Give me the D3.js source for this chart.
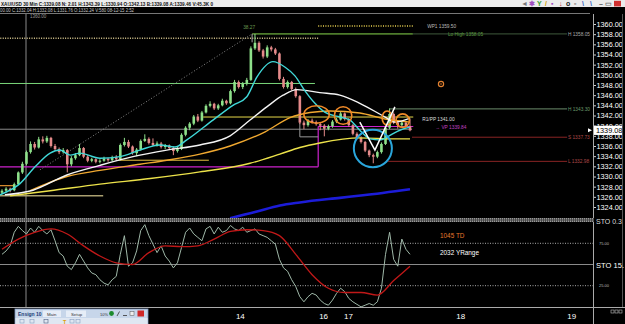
<!DOCTYPE html>
<html>
<head>
<meta charset="utf-8">
<script src="https://d3js.org/d3.v7.min.js"></script>
<style>
  body { margin: 0; background: #000; }
  svg { display: block; font-family: "Liberation Sans", Arial, sans-serif; }
</style>
</head>
<body>
<svg width="625" height="324"></svg>
<script>
// XAU/USD 30 min bars
var open = [1326.8,1327.2,1327.6,1327.3,1328.5,1330.8,1332.5,1334.8,1336.4,1335.7,
1337.3,1336.9,1337.6,1336.0,1335.4,1334.8,1335.2,1332.4,1333.6,1334.2,
1335.6,1333.9,1333.1,1333.4,1332.9,1333.1,1333.5,1333.2,1333.8,1333.4,
1336.2,1336.8,1335.9,1334.6,1335.3,1337.0,1337.4,1336.6,1336.2,1336.5,
1335.8,1336.1,1335.6,1335.0,1335.4,1338.2,1339.6,1340.4,1341.8,1341.0,
1342.6,1343.9,1344.3,1343.4,1344.0,1344.9,1344.4,1346.8,1348.6,1347.6,
1348.3,1349.0,1355.2,1356.3,1354.8,1353.6,1355.4,1355.0,1354.2,1349.2,
1347.6,1348.6,1347.2,1345.8,1340.6,1340.1,1341.0,1340.7,1340.3,1340.0,
1339.4,1339.9,1340.8,1341.2,1342.4,1341.3,1340.1,1338.4,1337.6,1336.8,
1335.1,1334.2,1333.9,1334.8,1336.4,1339.6,1342.3,1340.6,1340.1,1340.6,
1339.9];
var high = [1327.5,1327.9,1327.8,1328.8,1331.0,1332.9,1335.1,1336.9,1336.8,1337.8,
1337.9,1338.0,1337.8,1336.4,1335.7,1335.6,1335.4,1334.0,1334.6,1336.4,
1335.8,1334.2,1333.7,1333.6,1333.4,1333.9,1333.7,1334.1,1334.2,1336.5,
1337.6,1337.2,1336.1,1335.6,1337.3,1338.3,1337.7,1337.5,1336.9,1336.8,
1336.4,1336.3,1335.9,1335.8,1338.5,1339.9,1340.7,1342.1,1342.3,1342.9,
1344.2,1344.8,1344.5,1344.3,1345.3,1345.1,1347.1,1349.0,1348.9,1348.6,
1349.4,1355.6,1358.05,1356.6,1355.1,1355.8,1355.7,1355.3,1354.4,1349.6,
1348.9,1348.8,1347.5,1346.0,1341.0,1341.3,1341.4,1341.0,1340.6,1340.3,
1340.2,1341.1,1341.5,1342.8,1342.6,1341.5,1340.3,1338.7,1337.9,1337.0,
1335.3,1334.5,1335.1,1336.7,1339.9,1343.4,1342.6,1340.9,1340.9,1340.9,
1341.4];
var low = [1326.5,1326.9,1326.9,1327.1,1328.3,1330.5,1332.2,1334.5,1335.3,1335.5,
1336.5,1336.6,1335.7,1335.0,1334.4,1334.5,1330.8,1332.0,1333.3,1334.0,
1333.6,1332.8,1332.8,1332.6,1332.6,1332.9,1332.9,1333.0,1333.1,1333.2,
1335.9,1335.6,1334.3,1334.0,1335.1,1336.8,1336.3,1336.0,1335.9,1335.5,
1335.4,1335.2,1334.2,1334.7,1335.2,1337.9,1339.1,1340.1,1340.7,1340.8,
1342.4,1343.6,1343.1,1343.1,1343.8,1344.1,1344.2,1346.5,1347.3,1347.2,
1347.9,1348.8,1354.9,1354.5,1353.2,1353.3,1354.6,1353.9,1348.9,1347.3,
1347.3,1346.9,1345.5,1340.3,1339.3,1339.8,1340.4,1340.0,1339.1,1337.9,
1339.1,1339.6,1340.5,1341.0,1341.0,1339.8,1338.1,1337.3,1336.5,1334.8,
1333.8,1332.6,1333.6,1334.5,1336.2,1339.3,1340.3,1339.4,1339.8,1339.6,
1338.9];
var close = [1327.2,1327.6,1327.3,1328.5,1330.8,1332.5,1334.8,1336.4,1335.7,1337.3,
1336.9,1337.6,1336.0,1335.4,1334.8,1335.2,1332.4,1333.6,1334.2,1335.6,
1333.9,1333.1,1333.4,1332.9,1333.1,1333.5,1333.2,1333.8,1333.4,1336.2,
1336.8,1335.9,1334.6,1335.3,1337.0,1337.4,1336.6,1336.2,1336.5,1335.8,
1336.1,1335.6,1335.0,1335.4,1338.2,1339.6,1340.4,1341.8,1341.0,1342.6,
1343.9,1344.3,1343.4,1344.0,1344.9,1344.4,1346.8,1348.6,1347.6,1348.3,
1349.0,1355.2,1356.3,1354.8,1353.6,1355.4,1355.0,1354.2,1349.2,1347.6,
1348.6,1347.2,1345.8,1340.6,1340.1,1341.0,1340.7,1340.3,1340.0,1339.4,
1339.9,1340.8,1341.2,1342.4,1341.3,1340.1,1338.4,1337.6,1336.8,1335.1,
1334.2,1333.9,1334.8,1336.4,1339.6,1342.3,1340.6,1340.1,1340.6,1339.9,
1339.08];

// moving averages [bar, price]
var maCyan = [[-0.5,1326.4],[4.4,1328.6],[8.1,1331.9],[11.8,1334.6],[14.2,1335.2],[16.7,1334.2],
  [19.1,1334.6],[24,1333.6],[28.9,1333.9],[33.8,1335.2],[38.7,1336.2],[42.4,1335.8],[45.3,1337.2],
  [51.7,1341.1],[56.6,1344.0],[60,1345.7],[62.5,1349.6],[66.4,1352.6],[69.4,1351.5],[71.8,1349.8],
  [74.3,1346.8],[76.7,1344.4],[79.2,1342.6],[82.8,1341.7],[85.3,1341.1],[87.7,1339.1],[90.2,1337.4],
  [92.6,1337.2],[95.1,1338.1],[97.5,1339.1],[100,1339.7]];
var maWhite = [[0.7,1326.4],[7.6,1327.3],[15.9,1330.3],[24,1332.2],[32.1,1333.9],[40.4,1335.2],
  [48.5,1336.2],[55.9,1338.0],[60.8,1341.1],[64.9,1343.7],[68.9,1346.0],[72.3,1347.1],[77.9,1346.5],
  [82.8,1346.0],[87.7,1344.4],[93.9,1341.7],[96.3,1340.7],[100,1341.5]];
var maOrange = [[6.9,1327.2],[15.9,1330.0],[24,1331.2],[33.8,1332.4],[40.4,1333.2],[48.5,1334.4],
  [55.9,1336.0],[64.5,1338.8],[70.6,1341.6],[75.5,1342.6],[80.4,1342.9],[87.7,1342.5],[93.9,1341.3],[100,1340.7]];
var maYellow = [[2,1326.2],[11.8,1327.2],[24,1328.5],[36.3,1329.6],[48.5,1330.9],[60.8,1332.6],
  [68.1,1334.4],[73,1335.7],[77.9,1336.6],[87.7,1337.6],[96.3,1337.4],[100,1337.4]];
var maBlue = [[55.9,1321.8],[62,1323.0],[68.1,1324.3],[73,1324.9],[82.8,1325.8],[88.5,1326.3],[100,1327.5]];

// drawn levels: price, from bar, to bar
var lvlPrice = [1348.3, 1339.3, 1341.7, 1331.9, 1339.84, 1333.2, 1326.2, 1328.2, 1343.3, 1337.73, 1332.98, 1357.2, 1359.6, 1358.05, 1358.05];
var lvlFrom  = [-1, -1, 49.3, -1, 77.5, 28.4, -1, -1, 95, 100.5, 94.6, -1, 77.5, 61.3, 100.7];
var lvlTo    = [76.7, 100.5, 100.8, 77.5, 100.8, 50.7, 24.8, 2.7, 138.5, 138.5, 138.5, 77.5, 100.8, 100.7, 138.5];

// stochastic
var stoK = [62,66,72,88,95,90,86,93,88,95,
90,86,91,78,64,60,48,44,52,62,
54,46,40,38,32,28,26,32,36,62,
84,48,52,66,90,97,84,74,64,72,
60,54,46,52,70,88,93,86,82,78,
92,95,86,94,88,90,96,92,90,94,
88,90,92,86,84,82,78,74,56,46,
42,32,24,12,6,12,16,14,8,4,
2,8,16,22,18,10,6,3,0,2,
4,2,6,22,62,88,56,48,80,68,
62];
var stoD = [68,80,88,92,86,72,60,52,50,64,72,71,72,80,89,91,90,84,62,38,22,17,17,14,31,48]; // every 4 bars

var priceTicks = [1324,1326,1328,1330,1332,1334,1336,1338,1340,1342,1344,1346,1348,1350,1352,1354,1356,1358,1360];
var dayTicks = [58.3, 78.7, 84.8, 112.3, 139.5];
var dayLabels = ["14", "16", "17", "18", "19"];

var lastPrice = 1339.08;

// ---------------------------------------------------------------
var svg = d3.select("svg");
svg.append("rect").attr("width", 625).attr("height", 324).attr("fill", "#000");

var x = d3.scaleLinear().domain([0, 100]).range([2, 410]);
var y = d3.scaleLinear().domain([1324, 1360]).range([207, 24]);
var ys = d3.scaleLinear().domain([25, 75]).range([285.7, 243.3]);

var upCol = "#8ee08a", dnCol = "#e58a8a";

// header rows
svg.append("rect").attr("width", 625).attr("height", 7).attr("fill", "#ececec");
svg.append("text").attr("x", 1).attr("y", 5.6).attr("font-size", 5.6).attr("font-weight", "bold").attr("fill", "#111")
  .attr("textLength", 212).attr("lengthAdjust", "spacingAndGlyphs")
  .text("XAU/USD 30 Min C:1339.08 N: 2.01 H:1343.39 L:1330.94 O:1342.13 B:1339.08 A:1339.46 V:45.3K 0");
svg.append("text").attr("x", 0).attr("y", 12).attr("font-size", 5).attr("fill", "#c8c8c8")
  .attr("textLength", 134).attr("lengthAdjust", "spacingAndGlyphs")
  .text("00.00 C:1332.04 H:1332.08 L:1331.76 O:1332.24 V:580 08-12-15 2:52");

var icons = svg.append("g").attr("font-size", 7).attr("font-weight", "bold");
[["◄", 521, "#777"], ["✱", 529, "#a050c0"], ["Y", 537, "#30a030"], ["/", 545, "#d0a000"], ["▪", 551, "#a050c0"],
 ["↓", 559, "#c03030"], ["o", 566, "#222"], ["▫", 574, "#333"], ["\\", 582, "#3060c0"], ["\\", 590, "#3060c0"],
 ["–", 599, "#555"], ["▭", 605, "#777"]].forEach(function(d) {
  icons.append("text").attr("x", d[1]).attr("y", 6.3).attr("fill", d[2]).text(d[0]);
});
svg.append("rect").attr("x", 614).attr("y", 0.8).attr("width", 7).attr("height", 5.6).attr("fill", "#d03030");

svg.append("line").attr("x1", 0).attr("x2", 590).attr("y1", 13.5).attr("y2", 13.5).attr("stroke", "#777");
svg.append("text").attr("x", 30).attr("y", 18).attr("font-size", 4.5).attr("fill", "#999").text("1360.00");

// main price panel
svg.append("clipPath").attr("id", "mainClip").append("rect")
  .attr("x", 0).attr("y", 14).attr("width", 593).attr("height", 204);
var main = svg.append("g").attr("clip-path", "url(#mainClip)");

main.append("line").attr("x1", 26).attr("x2", 26).attr("y1", 14).attr("y2", 218).attr("stroke", "#8a8a8a");

var lvlColor = ["#7ad67a", "#8a8a8a", "#e6d84a", "#cc22cc", "#cc22cc", "#e8c040", "#aaa070", "#e09030",
                "#6b8c6b", "#8a2424", "#8a2424", "#d8c890", "#e8d050", "#4e7c2c", "#3f5a3c"];
var lvlWidth = [1, 1, 1, 1.2, 1.2, 1, 1.6, 1.2, 1, 1, 1, 1.3, 1.6, 1.6, 1];
var lvlDash  = [null, null, null, null, null, null, null, null, null, null, null, "1,1.4", "1,1.4", null, null];

main.selectAll("line.lvl").data(lvlPrice).enter().append("line")
  .attr("class", "lvl")
  .attr("x1", function(d, i) { return x(lvlFrom[i]); })
  .attr("x2", function(d, i) { return x(lvlTo[i]); })
  .attr("y1", function(d) { return y(d); })
  .attr("y2", function(d) { return y(d); })
  .attr("stroke", function(d, i) { return lvlColor[i]; })
  .attr("stroke-width", function(d, i) { return lvlWidth[i]; })
  .attr("stroke-dasharray", function(d, i) { return lvlDash[i]; });

// magenta step and grey bracket
main.append("line").attr("x1", x(77.5)).attr("x2", x(77.5)).attr("y1", y(1331.9)).attr("y2", y(1339.84))
  .attr("stroke", "#cc22cc").attr("stroke-width", 1.2);
main.append("path").attr("fill", "none").attr("stroke", "#999")
  .attr("d", d3.line()([[x(73), y(1340.5)], [x(73), y(1337.8)], [x(77.5), y(1337.8)]]));

// dotted trend line to the high
main.append("line").attr("x1", x(9.3)).attr("y1", y(1331.3)).attr("x2", x(61.3)).attr("y2", y(1358.05))
  .attr("stroke", "#8a8a8a").attr("stroke-dasharray", "1,2");
main.append("line").attr("x1", x(61.3)).attr("x2", x(61.3)).attr("y1", y(1358.05)).attr("y2", y(1356.4)).attr("stroke", "#aaa");

// candles
var bars = d3.range(close.length);
var cg = main.append("g");
cg.selectAll("line").data(bars).enter().append("line")
  .attr("x1", function(i) { return x(i); })
  .attr("x2", function(i) { return x(i); })
  .attr("y1", function(i) { return y(high[i]); })
  .attr("y2", function(i) { return y(low[i]); })
  .attr("stroke", function(i) { return close[i] >= open[i] ? upCol : dnCol; });
cg.selectAll("rect").data(bars).enter().append("rect")
  .attr("x", function(i) { return x(i) - 1.3; })
  .attr("width", 2.6)
  .attr("y", function(i) { return y(Math.max(open[i], close[i])); })
  .attr("height", function(i) { return Math.max(1, Math.abs(y(open[i]) - y(close[i]))); })
  .attr("fill", function(i) { return close[i] >= open[i] ? upCol : dnCol; });

// moving averages
var maLine = d3.line().x(function(d) { return x(d[0]); }).y(function(d) { return y(d[1]); }).curve(d3.curveMonotoneX);
[[maBlue, "#1c1cd8", 2.6], [maYellow, "#ece24a", 1.4], [maOrange, "#f0a830", 1.4],
 [maWhite, "#f4f4f4", 1.4], [maCyan, "#40d8d8", 1.4]].forEach(function(s) {
  main.append("path").datum(s[0]).attr("fill", "none").attr("stroke", s[1]).attr("stroke-width", s[2]).attr("d", maLine);
});

// hand drawn marks
var ov = main.append("g").attr("fill", "none");
var orangeRings = [[77.1, 1342.2, 3.1, 1.71], [83.6, 1342.0, 2.13, 1.73], [94.4, 1341.5, 1.23, 1.38], [98.2, 1341.0, 1.64, 1.32]];
orangeRings.forEach(function(e) {
  ov.append("ellipse").attr("cx", x(e[0])).attr("cy", y(e[1]))
    .attr("rx", x(e[2]) - x(0)).attr("ry", y(1324) - y(1324 + e[3]))
    .attr("stroke", "#f08a28").attr("stroke-width", 1.6);
});
ov.append("ellipse").attr("cx", x(90.9)).attr("cy", y(1335.5))
  .attr("rx", x(4.66) - x(0)).attr("ry", y(1324) - y(1324 + 3.68))
  .attr("stroke", "#2aa6dc").attr("stroke-width", 2);
ov.append("path").attr("stroke", "#fff").attr("stroke-width", 1.5)
  .attr("d", d3.line()([[x(87.7), y(1340.7)], [x(91.4), y(1335.2)], [x(96.3), y(1343.7)]]));
ov.append("circle").attr("cx", x(107.6)).attr("cy", y(1348.2)).attr("r", 2.6).attr("stroke", "#e08030").attr("stroke-width", 1.2);
ov.append("circle").attr("cx", x(107.6)).attr("cy", y(1348.2)).attr("r", 0.8).attr("fill", "#e08030");

// level labels
var tl = main.append("g").attr("font-size", 4.8);
[["WP1 1359.50", 104.2, 1359.5, "#bbbbbb"], ["Lo High 1358.05", 109.3, 1358.05, "#5a9a40"],
 ["H 1358.05", 138.7, 1358.05, "#aaaaaa"], ["38.27", 59.1, 1359.3, "#6a9a50"],
 ["R1/PP 1341.00", 103, 1341.2, "#dddddd"], ["\u2192  VP 1339.84", 106.2, 1339.7, "#c040c0"],
 ["H 1343.30", 138.7, 1343.3, "#6a9a6a"], ["S 1337.73", 138.7, 1337.73, "#b04848"],
 ["L 1332.98", 138.7, 1332.98, "#b04848"]].forEach(function(t) {
  tl.append("text").attr("x", x(t[1])).attr("y", y(t[2]) + 1.7).attr("fill", t[3]).text(t[0]);
});

// price axis
var ax = svg.append("g").attr("transform", "translate(593.5,0)")
  .call(d3.axisRight(y).tickValues(priceTicks).tickSize(2.5).tickFormat(d3.format(".2f")));
ax.select(".domain").remove();
ax.selectAll("line").attr("stroke", "#ccc");
ax.selectAll("text").attr("fill", "#fff").attr("font-size", 7.3).attr("x", 3)
  .attr("font-family", "'Liberation Sans', Arial, sans-serif");
svg.append("line").attr("x1", 593.5).attr("x2", 593.5).attr("y1", 14).attr("y2", 324).attr("stroke", "#aaa");
svg.append("line").attr("x1", 622.5).attr("x2", 622.5).attr("y1", 14).attr("y2", 307).attr("stroke", "#555");

svg.append("rect").attr("x", 594).attr("y", y(lastPrice) - 4.6).attr("width", 28).attr("height", 9.2).attr("fill", "#fff");
svg.append("text").attr("x", 596).attr("y", y(lastPrice) + 2.7).attr("font-size", 7.3).attr("fill", "#000")
  .text(d3.format(".2f")(lastPrice));
svg.append("path").attr("fill", "#fff")
  .attr("d", d3.line()([[588, y(lastPrice) - 2], [592, y(lastPrice)], [588, y(lastPrice) + 2]]));

// panel separator
svg.append("rect").attr("x", 0).attr("y", 218).attr("width", 594).attr("height", 4).attr("fill", "#4a4a4a");
[218.5, 220, 221.5].forEach(function(v) {
  svg.append("line").attr("x1", 0).attr("x2", 594).attr("y1", v).attr("y2", v)
    .attr("stroke", "#bbb").attr("stroke-width", 0.7).attr("stroke-dasharray", "1,1");
});
svg.append("text").attr("x", 596).attr("y", 223.5).attr("font-size", 7).attr("fill", "#ddd").text("STO 0.3");

// stochastic panel
var sto = svg.append("g");
sto.append("line").attr("x1", 26).attr("x2", 26).attr("y1", 222).attr("y2", 307).attr("stroke", "#8a8a8a");
[[75, "1,1.5", "#aaa"], [50, null, "#8a8a8a"], [25, "1,1.5", "#aaa"]].forEach(function(g) {
  sto.append("line").attr("x1", 0).attr("x2", 593).attr("y1", ys(g[0])).attr("y2", ys(g[0]))
    .attr("stroke", g[2]).attr("stroke-dasharray", g[1]);
});
sto.append("text").attr("x", 599).attr("y", ys(75) + 1.5).attr("font-size", 4).attr("fill", "#bbb").text("75.00");
sto.append("text").attr("x", 599).attr("y", ys(25) + 1.5).attr("font-size", 4).attr("fill", "#bbb").text("25.00");
sto.append("text").attr("x", 596).attr("y", ys(50) + 3).attr("font-size", 7.6).attr("fill", "#fff").text("STO  15.");

sto.append("path").datum(stoK).attr("fill", "none").attr("stroke", "#9fb8a8").attr("stroke-width", 1)
  .attr("d", d3.line().x(function(d, i) { return x(i); }).y(function(d) { return ys(d); }));
sto.append("path").datum(stoD).attr("fill", "none").attr("stroke", "#c01818").attr("stroke-width", 1.3)
  .attr("d", d3.line().x(function(d, i) { return x(i * 4); }).y(function(d) { return ys(d); }).curve(d3.curveMonotoneX));

sto.append("text").attr("x", 440).attr("y", 237.5).attr("font-size", 6.4).attr("fill", "#e8782c").text("1045 TD");
sto.append("text").attr("x", 440).attr("y", 254.5).attr("font-size", 6.4).attr("fill", "#fff").text("2032 YRange");

// time axis
svg.append("line").attr("x1", 0).attr("x2", 625).attr("y1", 307.5).attr("y2", 307.5).attr("stroke", "#aaa");
var tx = svg.append("g").attr("transform", "translate(0,308)")
  .call(d3.axisBottom(x).tickValues(dayTicks).tickSize(0).tickFormat(function(d, i) { return dayLabels[i]; }));
tx.select(".domain").remove();
tx.selectAll("text").attr("fill", "#fff").attr("font-size", 8).attr("dy", "0.95em")
  .attr("font-family", "'Liberation Sans', Arial, sans-serif");
[611, 615, 619].forEach(function(v) {
  svg.append("rect").attr("x", v).attr("y", 310).attr("width", 3).attr("height", 3).attr("fill", "none").attr("stroke", "#bbb").attr("stroke-width", 0.6);
});

// Ensign 10 mini window
var win = svg.append("g");
win.append("rect").attr("x", 15).attr("y", 309).attr("width", 133).attr("height", 16).attr("fill", "#c7d6ea").attr("stroke", "#7f98bf").attr("stroke-width", 0.8);
win.append("rect").attr("x", 15.5).attr("y", 318).attr("width", 132).attr("height", 6).attr("fill", "#dfe7f2");
win.append("text").attr("x", 18).attr("y", 315.8).attr("font-size", 5).attr("font-weight", "bold").attr("fill", "#1e3c78").text("Ensign 10");
win.append("rect").attr("x", 43).attr("y", 310.5).attr("width", 18).attr("height", 6.5).attr("fill", "#e6edf7");
win.append("rect").attr("x", 66).attr("y", 310.5).attr("width", 20).attr("height", 6.5).attr("fill", "#e6edf7");
win.append("text").attr("x", 47).attr("y", 315.6).attr("font-size", 4.3).attr("fill", "#333").text("Main");
win.append("text").attr("x", 71).attr("y", 315.6).attr("font-size", 4.3).attr("fill", "#333").text("Setup");
win.append("text").attr("x", 100).attr("y", 315.6).attr("font-size", 4).attr("fill", "#333").text("10%");
win.append("circle").attr("cx", 111.5).attr("cy", 313.5).attr("r", 2.4).attr("fill", "#1c8a2c");
win.append("line").attr("x1", 117).attr("y1", 316).attr("x2", 119.5).attr("y2", 311.5).attr("stroke", "#333").attr("stroke-width", 0.8);
win.append("line").attr("x1", 123).attr("y1", 315.5).attr("x2", 127).attr("y2", 315.5).attr("stroke", "#333").attr("stroke-width", 0.8);
win.append("rect").attr("x", 130).attr("y", 311.5).attr("width", 4).attr("height", 4).attr("fill", "#eee").attr("stroke", "#555").attr("stroke-width", 0.5);
win.append("rect").attr("x", 137.5).attr("y", 310.5).attr("width", 6.5).attr("height", 6).attr("fill", "#d02828");
win.append("text").attr("x", 63).attr("y", 323.5).attr("font-size", 5.5).attr("font-weight", "bold").attr("fill", "#e0a010").text("T");
[[20, "#8aa0c0"], [30, "#8aa0c0"], [44, "#506080"], [70, "#8aa0c0"], [76, "#8aa0c0"]].forEach(function(b) {
  win.append("rect").attr("x", b[0]).attr("y", 319.5).attr("width", 4).attr("height", 3.5).attr("fill", "none").attr("stroke", b[1]).attr("stroke-width", 0.6);
});
</script>
</body>
</html>
